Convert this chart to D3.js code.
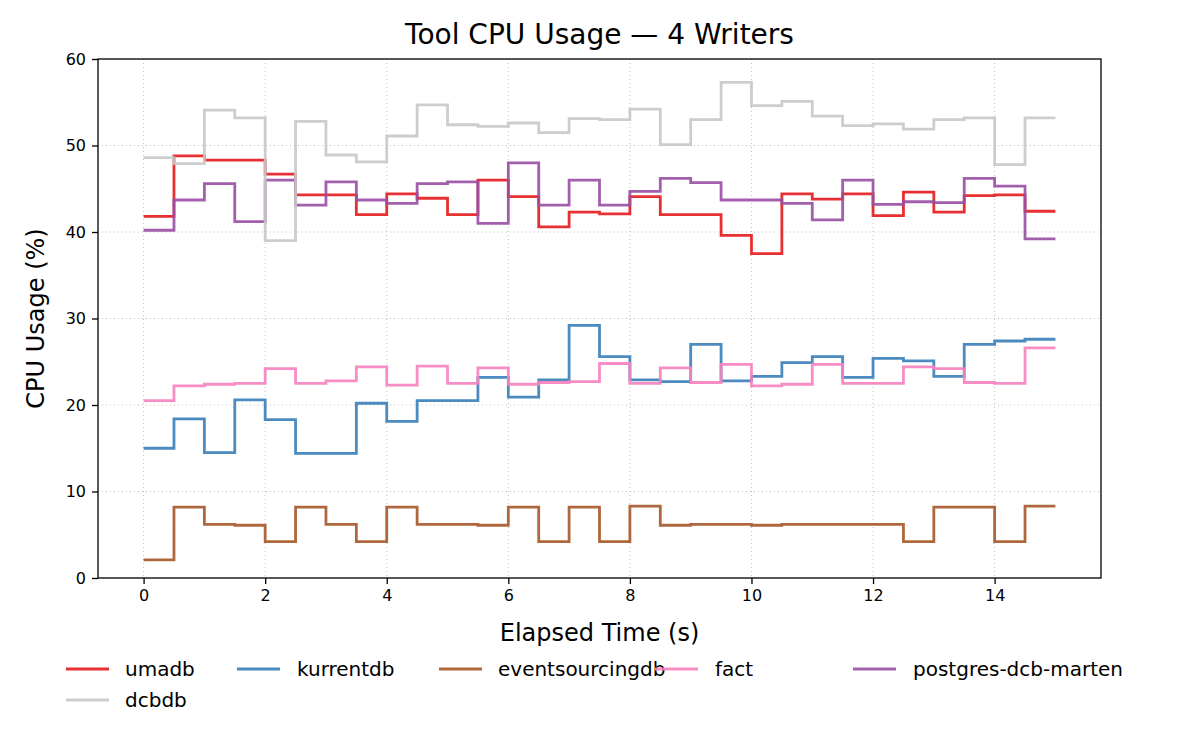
<!DOCTYPE html>
<html><head><meta charset="utf-8">
<script src="https://cdn.jsdelivr.net/npm/d3@7"></script>
<style>
body{margin:0;background:#fff;font-family:"DejaVu Sans",sans-serif;}
text{font-family:"DejaVu Sans",sans-serif;fill:#000;}
</style></head><body>
<svg id="chart" width="1200" height="750"></svg>
<script>
// values for each 0.5 s interval, starting at t=0
const times = d3.range(0, 15.01, 0.5);
const umadb = [41.8,48.8,48.3,48.3,46.7,44.3,44.3,42.0,44.4,43.9,42.0,46.0,44.1,40.6,42.3,42.1,44.1,42.0,42.0,39.6,37.5,44.4,43.8,44.4,41.9,44.6,42.3,44.2,44.3,42.4];
const kurrentdb = [15.0,18.4,14.5,20.6,18.3,14.4,14.4,20.2,18.1,20.5,20.5,23.2,20.9,22.9,29.2,25.6,22.9,22.7,27.0,22.8,23.3,24.9,25.6,23.2,25.4,25.1,23.3,27.0,27.4,27.6];
const eventsourcingdb = [2.1,8.2,6.2,6.1,4.2,8.2,6.2,4.2,8.2,6.2,6.2,6.1,8.2,4.2,8.2,4.2,8.3,6.1,6.2,6.2,6.1,6.2,6.2,6.2,6.2,4.2,8.2,8.2,4.2,8.3];
const fact = [20.5,22.2,22.4,22.5,24.2,22.5,22.8,24.4,22.3,24.5,22.5,24.3,22.4,22.6,22.7,24.8,22.5,24.3,22.6,24.7,22.2,22.4,24.7,22.5,22.5,24.4,24.2,22.6,22.5,26.6];
const postgres = [40.2,43.7,45.6,41.2,46.0,43.1,45.8,43.7,43.3,45.6,45.8,41.0,48.0,43.1,46.0,43.1,44.7,46.2,45.7,43.7,43.7,43.3,41.4,46.0,43.2,43.5,43.4,46.2,45.3,39.2];
const dcbdb = [48.6,47.9,54.1,53.2,39.0,52.8,48.9,48.1,51.1,54.7,52.4,52.2,52.6,51.5,53.1,53.0,54.2,50.1,53.0,57.3,54.6,55.1,53.4,52.3,52.5,51.9,53.0,53.2,47.8,53.2];
const seriesNames = ["umadb","kurrentdb","eventsourcingdb","fact","postgres-dcb-marten","dcbdb"];
const seriesValues = [umadb,kurrentdb,eventsourcingdb,fact,postgres,dcbdb];
const seriesColors = ["#e41a1c","#377eb8","#a65628","#f781bf","#984ea3","#c8c8c8"];
const xTicks = [0,2,4,6,8,10,12,14];
const yTicks = [0,10,20,30,40,50,60];

const svg = d3.select("#chart");
const m = {left:98, right:1101, top:59, bottom:578};
const x = d3.scaleLinear().domain([-0.75,15.75]).range([m.left,m.right]);
const y = d3.scaleLinear().domain([0,60]).range([m.bottom,m.top]);

// grid
svg.append("g").selectAll("line").data(xTicks).join("line")
  .attr("x1",d=>x(d)).attr("x2",d=>x(d)).attr("y1",m.top).attr("y2",m.bottom)
  .attr("stroke","#b0b0b0").attr("stroke-width",1).attr("stroke-dasharray","1,3").attr("opacity",0.8);
svg.append("g").selectAll("line").data(yTicks).join("line")
  .attr("x1",m.left).attr("x2",m.right).attr("y1",d=>y(d)).attr("y2",d=>y(d))
  .attr("stroke","#b0b0b0").attr("stroke-width",1).attr("stroke-dasharray","1,3").attr("opacity",0.8);

// lines (last value held to t=15)
const line = d3.line().x(d=>x(d[0])).y(d=>y(d[1])).curve(d3.curveStepAfter);
seriesValues.forEach((vals,i)=>{
  const pts = times.map((t,j)=>[t, vals[Math.min(j, vals.length-1)]]);
  svg.append("path").datum(pts).attr("d",line)
    .attr("fill","none").attr("stroke",seriesColors[i]).attr("stroke-opacity",0.9)
    .attr("stroke-width",2.8);
});

// frame
svg.append("rect").attr("x",m.left).attr("y",m.top).attr("width",m.right-m.left).attr("height",m.bottom-m.top)
  .attr("fill","none").attr("stroke","#000").attr("stroke-width",1.3);

const xa = svg.append("g").attr("transform",`translate(0,${m.bottom})`)
  .call(d3.axisBottom(x).tickValues(xTicks).tickSize(6).tickPadding(6));
const ya = svg.append("g").attr("transform",`translate(${m.left},0)`)
  .call(d3.axisLeft(y).tickValues(yTicks).tickSize(6).tickPadding(6));
[xa,ya].forEach(a=>{
  a.attr("font-size",16).attr("font-family","DejaVu Sans");
  a.select(".domain").remove();
  a.selectAll("text").attr("fill","#000");
  a.selectAll("line").attr("stroke","#000").attr("stroke-width",1.3);
});

svg.append("text").attr("x",(m.left+m.right)/2).attr("y",44).attr("text-anchor","middle")
  .attr("font-size",28).text("Tool CPU Usage — 4 Writers");
svg.append("text").attr("x",(m.left+m.right)/2).attr("y",641).attr("text-anchor","middle")
  .attr("font-size",24).text("Elapsed Time (s)");
svg.append("text").attr("transform",`translate(44,${(m.top+m.bottom)/2}) rotate(-90)`).attr("text-anchor","middle")
  .attr("font-size",24).text("CPU Usage (%)");

// legend
const legX = [66,237,439,655,853,66];
const legY = [669,669,669,669,669,700];
seriesNames.forEach((n,i)=>{
  const g = svg.append("g").attr("transform",`translate(${legX[i]},${legY[i]})`);
  g.append("line").attr("x1",0).attr("x2",43).attr("stroke",seriesColors[i]).attr("stroke-opacity",0.9).attr("stroke-width",3);
  g.append("text").attr("x",i===0||i===5?59:(i===1?60:i===2?59:60)).attr("y",7).attr("font-size",20).text(n);
});
</script></body></html>
